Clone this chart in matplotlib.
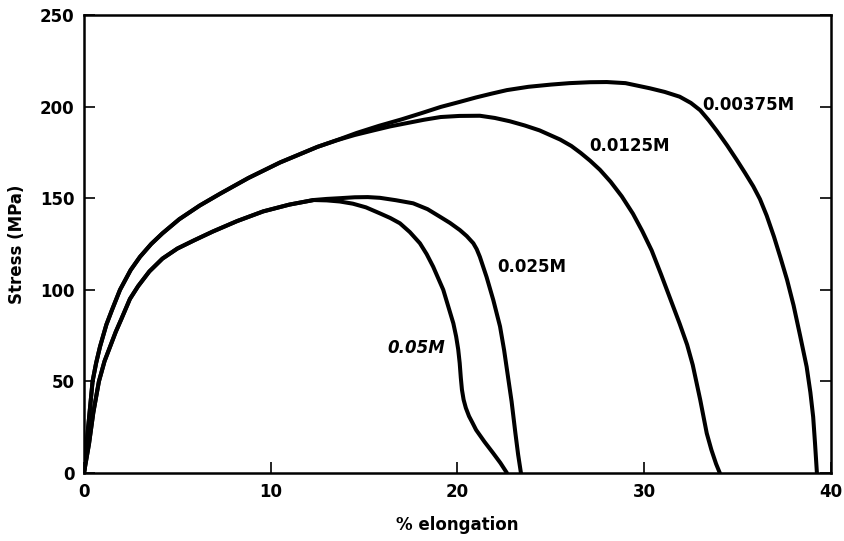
import numpy as np
import matplotlib
matplotlib.use("Agg")
import matplotlib.pyplot as plt

plt.rcParams['font.family'] = ['DejaVu Sans']
plt.rcParams['font.weight'] = 'bold'

# shared loading part of the two dilute curves
upper_x = [0, 0.15, 0.3, 0.46, 0.65, 0.86, 1.2, 1.5, 1.93, 2.5, 3.0, 3.6, 4.2, 5.1, 6.2, 7.3, 8.8,
           10.5, 12.5, 13.5]
upper_y = [0, 17, 33, 50, 60, 69, 81, 89, 100, 110.8, 118, 125, 130.8, 138.5, 146, 152.5, 161,
           169.5, 178, 181.5]

# shared loading part of the two concentrated curves
lower_x = [0, 0.27, 0.5, 0.8, 1.1, 1.4, 1.7, 2.0, 2.46, 2.9, 3.5, 4.2, 5.0, 5.9, 6.9, 8.2, 9.6,
           11.0, 12.3]
lower_y = [0, 16, 33, 50, 61, 69, 77, 84, 95, 102, 110, 117, 122.5, 127, 131.8, 137.5, 142.8,
           146.5, 149]

x_00375 = upper_x + [14.6, 15.8, 17.0, 18.1, 19.1, 20.1, 21.0, 21.8, 22.65, 23.8, 25.0, 26.0, 27.1,
                     28.0, 29.0, 30.3, 31.1, 31.9, 32.5, 33.0, 33.45, 33.9, 34.45, 34.95,
                     35.4, 35.84, 36.2, 36.56, 36.95, 37.3, 37.65, 38.0, 38.35, 38.7, 38.9, 39.05,
                     39.15, 39.25]
y_00375 = upper_y + [185.6, 189.5, 193, 196.5, 199.8, 202.5, 205, 207, 209, 210.8, 212, 212.8, 213.3,
                     213.4, 212.8, 210, 208, 205.4, 202, 198, 192.6, 186.6, 178.7, 171,
                     163.8, 156.5, 149.5, 140.5, 129, 117.5, 105.5, 91.5, 75, 58, 44, 30.6,
                     16, 0]

x_0125 = upper_x + [14.5, 15.5, 16.4, 17.3, 18.2, 19.1, 20.1, 21.2, 22.0, 22.8, 23.6, 24.4, 25.5,
                    26.1, 26.6, 27.1, 27.63, 28.2, 28.8, 29.4, 29.9, 30.4, 30.9, 31.4,
                    31.9, 32.3, 32.6, 33.0, 33.35, 33.6, 33.85, 34.05]
y_0125 = upper_y + [184.5, 187, 189.2, 191, 192.8, 194.3, 194.9, 195, 193.8, 192, 189.7, 187, 182,
                    178.5, 174.7, 170.5, 165.5, 159, 151, 141.5, 132, 121.5, 108.5, 95,
                    81.5, 70, 59, 40, 21.7, 12.6, 5, 0]

x_025 = lower_x + [13.0, 13.7, 14.5, 15.2, 15.85, 16.7, 17.63, 18.4, 19.06, 19.6, 20.13, 20.5, 20.85,
                   21.03, 21.2, 21.56, 21.92, 22.28, 22.5, 22.7, 22.9, 23.1, 23.25, 23.4]
y_025 = lower_y + [149.6, 150, 150.5, 150.6, 150.2, 148.9, 147.2, 144, 139.9, 136.5, 132.6, 129.3, 125.4,
                   122.2, 118, 107, 94.4, 80, 67, 53, 39, 22, 10, 0]

x_05 = lower_x + [13.0, 13.7, 14.4, 15.1, 15.85, 16.4, 16.92, 17.45, 17.99, 18.35, 18.7, 19.24, 19.78,
                  19.93, 20.04, 20.12, 20.18, 20.24, 20.33, 20.45, 20.62, 20.8, 21.0, 21.45, 21.9,
                  22.3, 22.65]
y_05 = lower_y + [148.8, 148.2, 147, 145, 141.7, 139.2, 136.3, 131.5, 125.4, 119.5, 112.6, 100, 81.7,
                  74.5, 67.5, 60, 52, 45.5, 40, 35.5, 31, 27.5, 23.5, 17, 11,
                  5.5, 0]

curves = [(x_00375, y_00375), (x_0125, y_0125), (x_025, y_025), (x_05, y_05)]
labels = ['0.00375M', '0.0125M', '0.025M', '0.05M']
label_pos = [(35.6, 201), (29.2, 178.5), (24.0, 112.5), (17.8, 68)]
label_style = ['normal', 'normal', 'normal', 'italic']

fig = plt.figure(figsize=(8.44, 5.41), dpi=100)
ax = fig.add_axes([0.0995, 0.1257, 0.885, 0.8466])

for (cx, cy) in curves:
    ax.plot(cx, cy, color='black', lw=2.9, solid_joinstyle='round', solid_capstyle='round')

for lab, (lx, ly), st in zip(labels, label_pos, label_style):
    ax.text(lx, ly, lab, fontsize=12, fontweight='bold', style=st, ha='center', va='center')

ax.set_xlim(0, 40)
ax.set_ylim(0, 250)
ax.set_xticks([0, 10, 20, 30, 40])
ax.set_yticks([0, 50, 100, 150, 200, 250])
ax.tick_params(direction='in', length=8, width=1.2, labelsize=12, right=True, top=False, pad=7)
for lbl in ax.get_xticklabels() + ax.get_yticklabels():
    lbl.set_fontweight('bold')
for sp in ax.spines.values():
    sp.set_linewidth(1.8)

ax.set_xlabel('% elongation', fontsize=12, fontweight='bold', labelpad=11)
ax.set_ylabel('Stress (MPa)', fontsize=12, fontweight='bold', labelpad=10)

fig.savefig('out.png', dpi=100)
